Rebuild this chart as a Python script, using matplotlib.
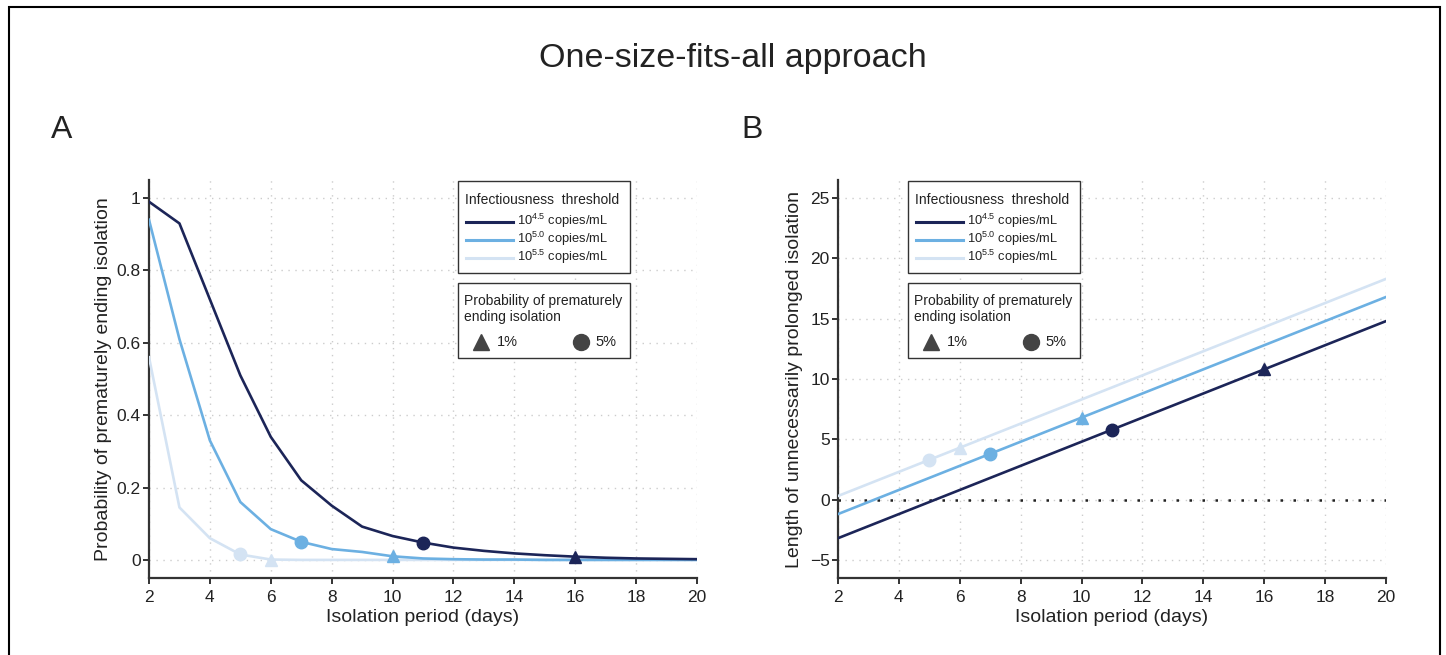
import numpy as np
import matplotlib
matplotlib.use("Agg")
import matplotlib.pyplot as plt
from matplotlib.lines import Line2D
from matplotlib.patches import Rectangle

plt.rcParams["font.family"] = ["Liberation Sans", "DejaVu Sans"]
plt.rcParams["mathtext.fontset"] = "custom"
plt.rcParams["mathtext.rm"] = "Liberation Sans"

# ---------------------------------------------------------------------------
# Data
# ---------------------------------------------------------------------------
days = list(range(2, 21))

# Panel A: probability of prematurely ending isolation
prob_45 = [0.99, 0.93, 0.72, 0.51, 0.34, 0.22, 0.15, 0.092, 0.066, 0.048,
           0.034, 0.025, 0.018, 0.013, 0.009, 0.006, 0.004, 0.003, 0.002]
prob_50 = [0.94, 0.61, 0.33, 0.16, 0.085, 0.05, 0.03, 0.022, 0.01, 0.004,
           0.002, 0.001, 0.001, 0.0, 0.0, 0.0, 0.0, 0.0, 0.0]
prob_55 = [0.56, 0.145, 0.06, 0.015, 0.001, 0.0, 0.0, 0.0, 0.0, 0.0,
           0.0, 0.0, 0.0, 0.0, 0.0, 0.0, 0.0, 0.0, 0.0]

# Panel B: length of unnecessarily prolonged isolation (days)
prol_45 = [-3.2, -2.2, -1.2, -0.2, 0.8, 1.8, 2.8, 3.8, 4.8, 5.8,
           6.8, 7.8, 8.8, 9.8, 10.8, 11.8, 12.8, 13.8, 14.8]
prol_50 = [-1.2, -0.2, 0.8, 1.8, 2.8, 3.8, 4.8, 5.8, 6.8, 7.8,
           8.8, 9.8, 10.8, 11.8, 12.8, 13.8, 14.8, 15.8, 16.8]
prol_55 = [0.3, 1.3, 2.3, 3.3, 4.3, 5.3, 6.3, 7.3, 8.3, 9.3,
           10.3, 11.3, 12.3, 13.3, 14.3, 15.3, 16.3, 17.3, 18.3]

# isolation day where probability drops to 1% (triangle) and 5% (circle)
day_1pct = {"45": 16, "50": 10, "55": 6}
day_5pct = {"45": 11, "50": 7, "55": 5}

keys = ["45", "50", "55"]
labels = {"45": r"$10^{4.5}$ copies/mL",
          "50": r"$10^{5.0}$ copies/mL",
          "55": r"$10^{5.5}$ copies/mL"}
colors = {"45": "#1c2558", "50": "#6cb0e2", "55": "#d4e3f3"}

# ---------------------------------------------------------------------------
# Figure
# ---------------------------------------------------------------------------
W, H = 1446, 655
fig = plt.figure(figsize=(W / 100, H / 100), dpi=100)
TXT = "#222222"


def fx(x):
    return x / W


def fy(y):
    return 1 - y / H


# thin frame around the whole figure
fig.patches.append(Rectangle((fx(9), -0.05), fx(1440 - 9), 1.05 - 7 / H,
                             transform=fig.transFigure, fill=False,
                             edgecolor="black", linewidth=1.5))

fig.text(fx(733), fy(58), "One-size-fits-all approach", fontsize=24.5,
         ha="center", va="center", color=TXT)
fig.text(fx(62), fy(130), "A", fontsize=23, ha="center", va="center", color=TXT)
fig.text(fx(752), fy(130), "B", fontsize=23, ha="center", va="center", color=TXT)

ax_w = 548 / W
ax_h = 398 / H
ax_b = (H - 578) / H
axA = fig.add_axes([fx(149), ax_b, ax_w, ax_h])
axB = fig.add_axes([fx(838), ax_b, ax_w, ax_h])

spine_col = "#333333"


def style_axis(ax):
    ax.set_xlim(2, 20)
    ax.set_xticks(range(2, 21, 2))
    for s in ["top", "right"]:
        ax.spines[s].set_visible(False)
    for s in ["left", "bottom"]:
        ax.spines[s].set_linewidth(1.6)
        ax.spines[s].set_color(spine_col)
    ax.tick_params(direction="out", length=4.5, width=1.4, color=spine_col,
                   labelsize=12.5, labelcolor=TXT)
    ax.tick_params(axis="x", pad=4)
    ax.tick_params(axis="y", pad=1.5)
    ax.grid(True, linestyle=(0, (1, 4)), color="#cccccc", linewidth=1.0)
    ax.set_axisbelow(True)
    ax.set_xlabel("Isolation period (days)", fontsize=14, color=TXT,
                  labelpad=3)


def draw_legends(dx):
    """Two boxed keys, drawn in figure pixels; dx shifts them per panel."""
    # threshold key
    fig.patches.append(Rectangle((fx(458 + dx), fy(273)), fx(172), 92 / H,
                                 transform=fig.transFigure, fill=True,
                                 facecolor="white", edgecolor="#333333",
                                 linewidth=1.0, zorder=5))
    fig.text(fx(465 + dx), fy(200), "Infectiousness  threshold", fontsize=10,
             ha="left", va="center", color=TXT, zorder=6)
    for k, yy in zip(keys, [222, 240, 258]):
        fig.add_artist(Line2D([fx(466 + dx), fx(513 + dx)], [fy(yy), fy(yy)],
                              color=colors[k], lw=2.2,
                              transform=fig.transFigure, zorder=6))
        fig.text(fx(517 + dx), fy(yy - 1), labels[k], fontsize=9.3,
                 ha="left", va="center", color=TXT, zorder=6)
    # probability key
    fig.patches.append(Rectangle((fx(458 + dx), fy(358)), fx(172), 75 / H,
                                 transform=fig.transFigure, fill=True,
                                 facecolor="white", edgecolor="#333333",
                                 linewidth=1.0, zorder=5))
    fig.text(fx(464 + dx), fy(301), "Probability of prematurely",
             fontsize=10, ha="left", va="center", color=TXT, zorder=6)
    fig.text(fx(464 + dx), fy(317), "ending isolation",
             fontsize=10, ha="left", va="center", color=TXT, zorder=6)
    fig.add_artist(Line2D([fx(481 + dx)], [fy(342)], marker="^", ms=11,
                          color="#444444", ls="none",
                          transform=fig.transFigure, zorder=6))
    fig.text(fx(497 + dx), fy(342), "1%", fontsize=10.5, ha="left",
             va="center", color=TXT, zorder=6)
    fig.add_artist(Line2D([fx(581 + dx)], [fy(342)], marker="o", ms=11.5,
                          color="#444444", ls="none",
                          transform=fig.transFigure, zorder=6))
    fig.text(fx(595 + dx), fy(342), "5%", fontsize=10.5, ha="left",
             va="center", color=TXT, zorder=6)


series_A = {"45": prob_45, "50": prob_50, "55": prob_55}
series_B = {"45": prol_45, "50": prol_50, "55": prol_55}

# ---- Panel A ----
for k in ["55", "50", "45"]:
    y = series_A[k]
    axA.plot(days, y, color=colors[k], lw=1.9, zorder=3)
    i1 = days.index(day_1pct[k])
    i5 = days.index(day_5pct[k])
    axA.plot(days[i1], y[i1], marker="^", ms=9, color=colors[k], zorder=4)
    axA.plot(days[i5], y[i5], marker="o", ms=9, color=colors[k], zorder=4)

style_axis(axA)
axA.set_ylim(-0.05, 1.05)
axA.set_yticks([0, 0.2, 0.4, 0.6, 0.8, 1.0])
axA.set_yticklabels(["0", "0.2", "0.4", "0.6", "0.8", "1"])
axA.set_ylabel("Probability of prematurely ending isolation", fontsize=14,
               color=TXT)
axA.yaxis.set_label_coords((112 - 149) / 548, 0.5)

# ---- Panel B ----
axB.plot([2, 20], [0, 0], color="#222222", lw=1.8, ls=(0, (1, 4.2)), zorder=2)
for k in ["55", "50", "45"]:
    y = series_B[k]
    axB.plot(days, y, color=colors[k], lw=1.9, zorder=3)
    i1 = days.index(day_1pct[k])
    i5 = days.index(day_5pct[k])
    axB.plot(days[i1], y[i1], marker="^", ms=9, color=colors[k], zorder=4)
    axB.plot(days[i5], y[i5], marker="o", ms=9, color=colors[k], zorder=4)

style_axis(axB)
axB.set_ylim(-6.5, 26.5)
axB.set_yticks([-5, 0, 5, 10, 15, 20, 25])
axB.set_yticklabels(["\u22125", "0", "5", "10", "15", "20", "25"])
axB.set_ylabel("Length of unnecessarily prolonged isolation", fontsize=14,
               color=TXT)
axB.yaxis.set_label_coords((803 - 838) / 548, 0.5)

draw_legends(0)
draw_legends(450)

fig.savefig("out.png", dpi=100)
